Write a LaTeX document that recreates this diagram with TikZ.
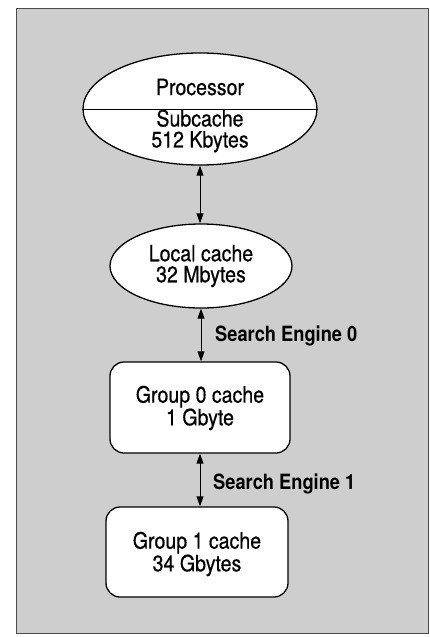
\documentclass[tikz,border=0pt]{standalone}
\usepackage{fontspec}
\setmainfont[FakeStretch=0.87]{TeX Gyre Heros}
\newfontfamily\regfont[FakeStretch=0.87,FakeBold=0.5]{TeX Gyre Heros}
\usetikzlibrary{shapes.geometric,arrows.meta}
\definecolor{panelgray}{RGB}{206,206,206}
\tikzset{
  unit/.style={ellipse,draw=black,line width=1.3pt,fill=white,inner sep=0pt},
  cachebox/.style={rectangle,rounded corners=14pt,draw=black,line width=1.3pt,fill=white,inner sep=0pt},
  txt/.style={font=\regfont\fontsize{22.5}{21}\selectfont,align=center,inner sep=0pt},
  lbl/.style={font=\fontsize{21}{21}\selectfont\bfseries,anchor=west,inner sep=0pt},
  link/.style={line width=0.9pt,{Triangle[length=10pt,width=7pt]}-{Triangle[length=10pt,width=7pt]}}
}
\begin{document}
\begin{tikzpicture}[x=1pt,y=-1pt]
\useasboundingbox (0,0) rectangle (430,637);
\fill[white] (0,0) rectangle (430,637);
\draw[fill=panelgray,draw=black!70,line width=0.8pt] (16,8) rectangle (428,633);
% nodes
\node[unit,minimum width=234pt,minimum height=112pt] (proc) at (200,109) {};
\draw[line width=1pt] (proc.west) -- (proc.east);
\node[txt] (proct) at (200,87) {Processor};
\node[txt] (subt) at (200,131) {Subcache\\512 Kbytes};
\node[unit,minimum width=182pt,minimum height=84pt] (local) at (201,266) {};
\node[txt] (localt) at (201,266) {Local cache\\32 Mbytes};
\node[cachebox,minimum width=180pt,minimum height=91pt] (g0) at (200,407.5) {};
\node[txt] (g0t) at (200,408) {Group 0 cache\\1 Gbyte};
\node[cachebox,minimum width=182pt,minimum height=90pt] (g1) at (197,552) {};
\node[txt] (g1t) at (197,554) {Group 1 cache\\34 Gbytes};
% connectors
\draw[link] (proc.south) -- (proc.south |- local.north);
\draw[link] (local.south) -- (local.south |- g0.north);
\draw[link] (g0.south) -- (g0.south |- g1.north);
% labels
\node[lbl] (se0) at (215,336) {Search Engine 0};
\node[lbl] (se1) at (213,484) {Search Engine 1};
\end{tikzpicture}
\end{document}
